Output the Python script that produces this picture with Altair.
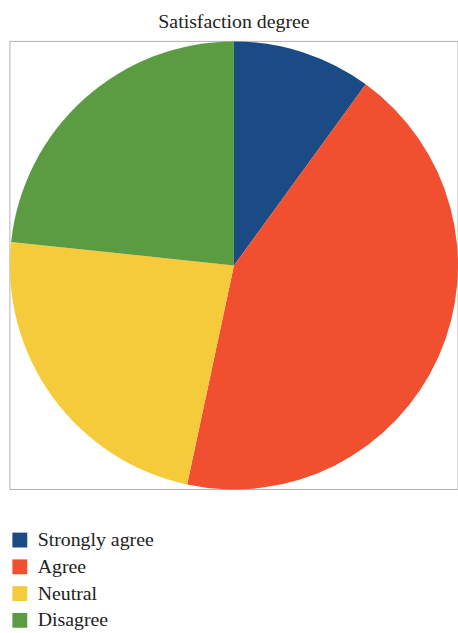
import altair as alt
import pandas as pd

categories = ["Strongly agree", "Agree", "Neutral", "Disagree"]
values = [10.0, 43.3, 23.3, 23.3]
colors = ["#1a4b84", "#f15030", "#f6cb3b", "#5b9b42"]

df = pd.DataFrame({"category": categories, "value": values, "order": list(range(len(categories)))})

W = 452
H = 452

frame = alt.Chart(df).mark_rect(fill=None, stroke="#b0b0b0", strokeWidth=1).encode(
    x=alt.value(0), x2=alt.value(W), y=alt.value(0), y2=alt.value(H)
).transform_filter(alt.datum.order == 0)

pie = alt.Chart(df).mark_arc(radius=226).encode(
    theta=alt.Theta("value:Q", stack=True),
    order=alt.Order("order:Q"),
    color=alt.Color(
        "category:N",
        sort=categories,
        scale=alt.Scale(domain=categories, range=colors),
        legend=alt.Legend(
            title=None,
            orient="none",
            legendX=0,
            legendY=493,
            padding=0,
            symbolType="square",
            symbolSize=225,
            symbolStrokeWidth=0,
            labelFont="Liberation Serif",
            labelFontSize=20,
            labelColor="#222222",
            labelOffset=8,
            rowPadding=7,
        ),
    ),
)

chart = alt.layer(frame, pie).properties(
    width=W,
    height=H,
    padding={"left": 10, "top": 39, "right": 0, "bottom": 142},
    autosize=alt.AutoSizeParams(type="none"),
    title=alt.TitleParams(
        "Satisfaction degree",
        font="Liberation Serif",
        fontSize=20,
        fontWeight="normal",
        color="#222222",
        offset=9,
        anchor="middle",
    ),
).configure_view(
    stroke=None,
)

chart.save("out.html", embed_options={"renderer": "svg", "actions": False})
